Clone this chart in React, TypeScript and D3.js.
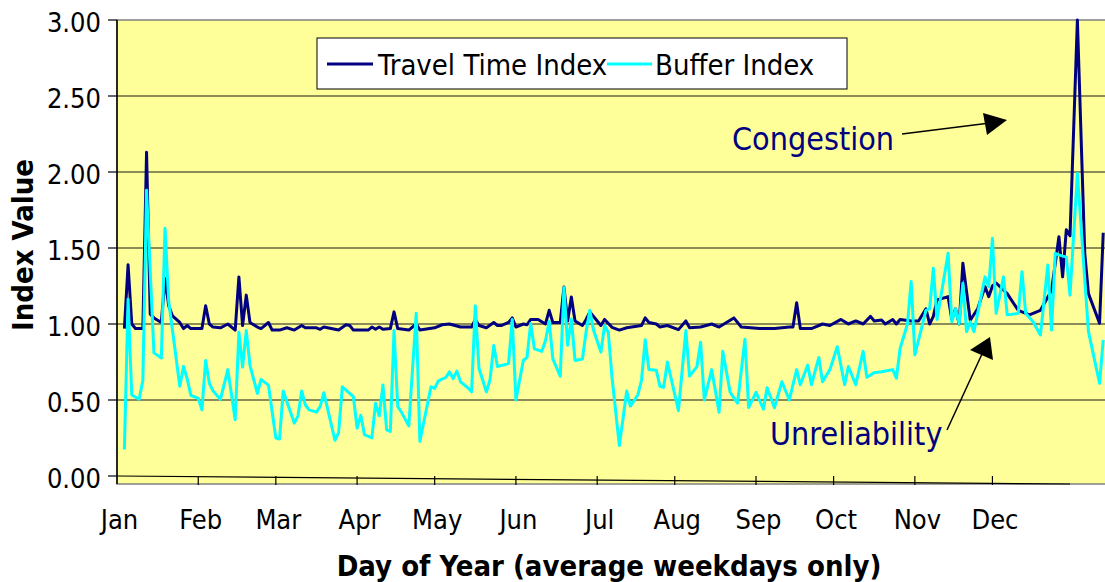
import React from 'react';
import * as d3 from 'd3';

// weekday index (0 = first weekday of Jan) -> index value
const travelTimeIndex: [number, number][] = [
  [2, 0.97], [3, 1.39], [4, 1.0], [5, 0.97], [7, 0.97], [8, 2.13], [9, 1.065], [10, 1.04],
  [12, 1.01], [13, 1.3], [14, 1.12], [15, 1.054], [17, 1.01], [18, 0.97], [19, 0.99], [20, 0.97],
  [23, 0.97], [24, 1.12], [25, 1.0], [26, 0.98], [28, 0.975], [30, 1.0], [32, 0.96], [33, 1.31],
  [34, 0.99], [35, 1.19], [36, 1.01], [38, 0.98], [39, 0.97], [41, 1.01], [42, 0.96], [44, 0.96],
  [46, 0.975], [48, 0.96], [50, 0.99], [51, 0.975], [54, 0.975], [55, 0.965], [56, 0.98], [60, 0.96],
  [62, 0.995], [63, 0.99], [64, 0.96], [68, 0.96], [69, 0.98], [70, 0.965], [71, 0.98], [72, 0.965],
  [74, 0.97], [75, 1.08], [76, 0.97], [79, 0.96], [81, 1.0], [82, 0.96], [86, 0.975], [88, 0.995],
  [90, 1.0], [93, 0.98], [96, 0.98], [97, 1.03], [98, 0.99], [100, 0.975], [102, 1.01], [103, 0.99],
  [104, 0.99], [106, 1.01], [107, 1.04], [108, 0.98], [110, 1.0], [111, 0.995], [112, 1.03], [114, 1.03],
  [116, 1.0], [117, 1.09], [118, 1.01], [120, 1.01], [121, 1.243], [122, 1.02], [123, 1.178], [124, 1.02],
  [126, 0.99], [127, 1.03], [128, 1.08], [130, 1.02], [131, 0.99], [132, 1.03], [134, 0.978], [136, 0.96],
  [138, 0.975], [142, 0.99], [143, 1.04], [144, 1.01], [146, 1.0], [147, 0.98], [149, 0.99], [152, 0.963],
  [154, 1.02], [155, 0.975], [158, 0.98], [161, 1.0], [163, 0.98], [167, 1.04], [169, 0.98], [174, 0.97],
  [178, 0.97], [182, 0.98], [183, 0.98], [184, 1.14], [185, 0.97], [188, 0.97], [191, 1.0], [193, 0.99],
  [196, 1.03], [198, 1.0], [200, 1.02], [202, 1.0], [204, 1.05], [205, 1.02], [207, 1.026], [208, 1.0],
  [210, 1.03], [211, 1.0], [212, 1.03], [215, 1.02], [217, 1.02], [219, 1.1], [220, 1.0], [221, 1.05],
  [222, 1.158], [225, 1.18], [226, 1.03], [227, 1.1], [228, 1.0], [229, 1.4], [231, 1.025], [233, 1.1],
  [235, 1.245], [236, 1.18], [237, 1.25], [238, 1.27], [241, 1.2], [244, 1.09], [247, 1.06], [250, 1.09],
  [253, 1.22], [255, 1.574], [256, 1.31], [257, 1.62], [258, 1.58], [260, 3.0], [262, 1.465], [263, 1.2],
  [266, 1.005], [267, 1.6],
];

const bufferIndex: [number, number][] = [
  [2, 0.174], [3, 1.163], [4, 0.533], [6, 0.505], [7, 0.63], [8, 1.88], [10, 0.81], [12, 0.776],
  [13, 1.63], [14, 1.15], [17, 0.59], [18, 0.72], [19, 0.64], [20, 0.53], [22, 0.51], [23, 0.435],
  [24, 0.76], [25, 0.61], [26, 0.56], [28, 0.504], [30, 0.7], [32, 0.37], [33, 0.946], [34, 0.717],
  [35, 0.957], [36, 0.728], [38, 0.543], [39, 0.635], [41, 0.598], [43, 0.25], [44, 0.243], [45, 0.559],
  [48, 0.348], [49, 0.396], [50, 0.559], [51, 0.467], [52, 0.435], [54, 0.42], [55, 0.457], [56, 0.548],
  [59, 0.235], [60, 0.285], [61, 0.587], [64, 0.522], [65, 0.315], [66, 0.4], [67, 0.272], [69, 0.25],
  [70, 0.478], [71, 0.396], [72, 0.598], [73, 0.304], [74, 0.293], [75, 0.957], [76, 0.457], [77, 0.42],
  [79, 0.33], [81, 1.07], [82, 0.228], [85, 0.587], [86, 0.576], [87, 0.626], [89, 0.648], [90, 0.685],
  [91, 0.641], [92, 0.69], [93, 0.62], [95, 0.58], [96, 0.554], [97, 1.12], [98, 0.707], [100, 0.554],
  [101, 0.635], [102, 0.859], [103, 0.72], [106, 0.739], [107, 1.03], [108, 0.5], [110, 0.76], [111, 0.78],
  [112, 1.004], [113, 0.837], [115, 0.82], [116, 0.89], [117, 1.017], [118, 0.77], [120, 0.657], [121, 1.24],
  [122, 0.86], [123, 1.033], [124, 0.76], [126, 0.77], [127, 0.95], [128, 1.09], [129, 0.96], [131, 0.815],
  [132, 0.99], [133, 0.946], [134, 0.652], [136, 0.2], [138, 0.559], [139, 0.46], [141, 0.533], [142, 0.63],
  [143, 0.896], [144, 0.7], [146, 0.696], [147, 0.59], [148, 0.583], [149, 0.75], [152, 0.43], [154, 0.957],
  [155, 0.657], [157, 0.72], [158, 0.88], [159, 0.5], [161, 0.7], [163, 0.42], [164, 0.82], [166, 0.55],
  [168, 0.48], [170, 0.9], [171, 0.45], [173, 0.55], [175, 0.44], [176, 0.58], [178, 0.45], [180, 0.62],
  [182, 0.5], [184, 0.7], [185, 0.6], [187, 0.73], [188, 0.6], [190, 0.78], [191, 0.62], [193, 0.7],
  [195, 0.85], [197, 0.6], [198, 0.72], [200, 0.6], [202, 0.82], [203, 0.65], [205, 0.68], [207, 0.686],
  [210, 0.7], [211, 0.643], [212, 0.84], [214, 1.0], [215, 1.28], [216, 0.796], [219, 1.09], [220, 1.1],
  [221, 1.366], [222, 1.03], [225, 1.465], [226, 1.015], [227, 1.1], [228, 1.0], [229, 1.268], [230, 0.95],
  [231, 1.015], [232, 0.95], [235, 1.31], [236, 1.245], [237, 1.564], [238, 1.07], [240, 1.31], [241, 1.06],
  [244, 1.07], [245, 1.344], [246, 1.07], [248, 1.015], [250, 0.928], [252, 1.388], [253, 0.96], [254, 1.465],
  [255, 1.455], [257, 1.44], [258, 1.19], [260, 1.99], [262, 1.29], [263, 0.95], [266, 0.61], [267, 0.895],
];

const monthLabels = ['Jan', 'Feb', 'Mar', 'Apr', 'May', 'Jun', 'Jul', 'Aug', 'Sep', 'Oct', 'Nov', 'Dec'];
const monthStarts = [0, 22, 43, 65, 86, 108, 130, 151, 173, 194, 216, 237];
const yearEnd = 258;
const yTicks = [0, 0.5, 1, 1.5, 2, 2.5, 3];

const W = 1105;
const H = 582;
const FONT = '"DejaVu Sans Condensed", "Liberation Sans", Arial, sans-serif';
const NAVY = '#000080';
const CYAN = '#00FFFF';

export default function App() {
  const left = 117, top = 20, bottom = 484, right = 1117;
  const x = d3.scaleLinear().domain([0, yearEnd]).range([left, 1070]);
  const y = d3.scaleLinear().domain([0, 3]).range([476, top]);

  const line = d3.line<[number, number]>()
    .x(d => x(d[0]))
    .y(d => y(d[1]));

  const y0 = y(0);
  const axisEndX = x(yearEnd);

  return (
    <svg width={W} height={H} style={{ position: 'absolute', left: 0, top: 0, background: '#fff' }}
      fontFamily={FONT}>
      <defs>
        <clipPath id="plot-clip">
          <rect x={left} y={8} width={W - left} height={bottom - 8} />
        </clipPath>
      </defs>

      {/* plot area */}
      <rect x={left} y={top} width={right - left} height={bottom - top} fill="#FFFF99" stroke="#808080" strokeWidth={1.5} />

      {/* gridlines */}
      {yTicks.filter(t => t > 0 && t < 3).map(t => (
        <line key={t} x1={left} x2={W} y1={y(t)} y2={y(t)} stroke="#1a1a1a" strokeWidth={1.2} />
      ))}

      {/* y axis */}
      <line x1={left} x2={left} y1={top} y2={bottom} stroke="#000" strokeWidth={1.5} />
      {yTicks.map(t => (
        <g key={t}>
          <line x1={left - 9} x2={left} y1={y(t)} y2={y(t)} stroke="#000" strokeWidth={1.2} />
          <text x={101} y={y(t) + 12} textAnchor="end" fontSize={27} fill="#000">{t.toFixed(2)}</text>
        </g>
      ))}

      {/* x axis (slanted as in the original) */}
      <line x1={left} y1={y0} x2={axisEndX} y2={bottom} stroke="#000" strokeWidth={1.2} />
      {monthStarts.map((m, i) => (
        <g key={m}>
          {i > 0 && <line x1={x(m)} x2={x(m)} y1={y0} y2={y0 + 9} stroke="#000" strokeWidth={1.2} />}
          <text x={x(m) + 2.5} y={529} textAnchor="middle" fontSize={27} fill="#000">{monthLabels[i]}</text>
        </g>
      ))}

      {/* series */}
      <g clipPath="url(#plot-clip)" fill="none" strokeLinejoin="round" strokeWidth={3}>
        <path d={line(travelTimeIndex) || ''} stroke={NAVY} />
        <path d={line(bufferIndex) || ''} stroke={CYAN} />
      </g>

      {/* legend */}
      <rect x={317} y={38} width={530} height={51} fill="#fff" stroke="#000" strokeWidth={1} />
      <line x1={327} x2={373} y1={64} y2={64} stroke={NAVY} strokeWidth={3} />
      <text x={378} y={75} fontSize={29} fill="#000">Travel Time Index</text>
      <line x1={607} x2={652} y1={64} y2={64} stroke={CYAN} strokeWidth={3} />
      <text x={655} y={75} fontSize={29} fill="#000">Buffer Index</text>

      {/* annotations */}
      <text x={732} y={150} fontSize={32} fill={NAVY}>Congestion</text>
      <line x1={902} y1={134} x2={990} y2={123} stroke="#000" strokeWidth={1.5} />
      <polygon points="983,113 1007,120 987,135" fill="#000" />
      <text x={770} y={445} fontSize={32} fill={NAVY}>Unreliability</text>
      <line x1={947} y1={430} x2={982} y2={354} stroke="#000" strokeWidth={1.5} />
      <polygon points="970,350 990,337 993,360" fill="#000" />

      {/* axis titles */}
      <text transform="translate(33,245) rotate(-90)" textAnchor="middle" fontSize={29} fontWeight="bold" fill="#000">Index Value</text>
      <text x={609} y={576} textAnchor="middle" fontSize={29} fontWeight="bold" fill="#000">Day of Year (average weekdays only)</text>
    </svg>
  );
}
